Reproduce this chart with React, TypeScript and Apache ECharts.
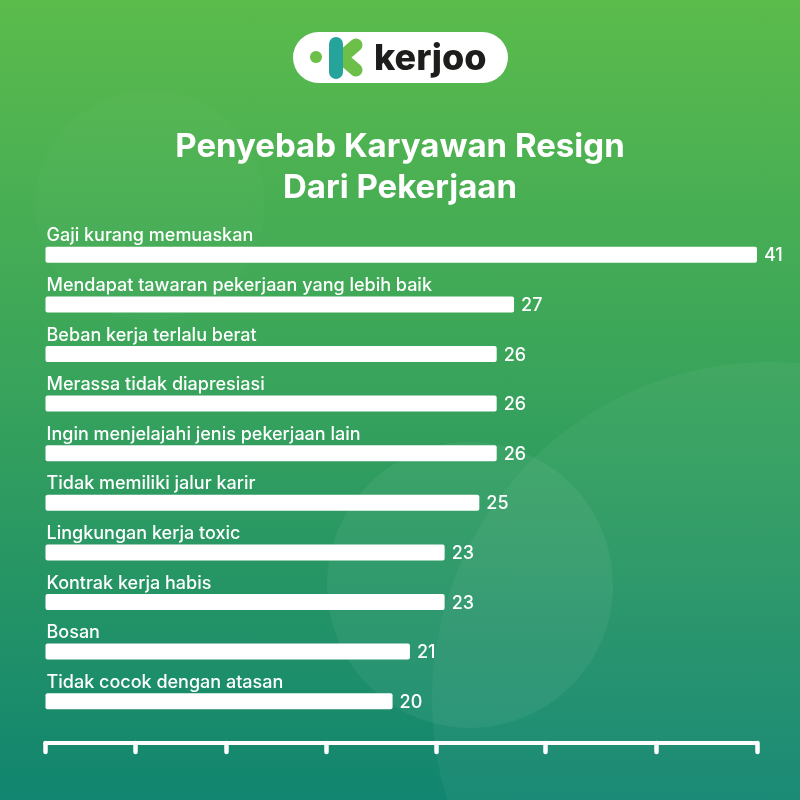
import React, { useEffect, useRef } from "react";
import * as echarts from "echarts";

const categories = [
  "Gaji kurang memuaskan",
  "Mendapat tawaran pekerjaan yang lebih baik",
  "Beban kerja terlalu berat",
  "Merassa tidak diapresiasi",
  "Ingin menjelajahi jenis pekerjaan lain",
  "Tidak memiliki jalur karir",
  "Lingkungan kerja toxic",
  "Kontrak kerja habis",
  "Bosan",
  "Tidak cocok dengan atasan",
];
const values = [41, 27, 26, 26, 26, 25, 23, 23, 21, 20];
const axisTickValues = [0, 5.2, 10.4, 16.2, 22.5, 28.8, 35.2, 41];
const titleLines = ["Penyebab Karyawan Resign", "Dari Pekerjaan"];
const brandText = "kerjoo";

const FONT = "Inter, 'Noto Sans', sans-serif";

export default function App() {
  const ref = useRef<HTMLDivElement>(null);
  useEffect(() => {
    if (!ref.current) return;
    const chart = echarts.init(ref.current, null, { renderer: "svg" });
    const bg = new echarts.graphic.LinearGradient(0, 0, 0, 1, [
      { offset: 0, color: "#5bbb4b" },
      { offset: 0.45, color: "#3aa55a" },
      { offset: 1, color: "#118570" },
    ]);
    chart.setOption({
      animation: false,
      graphic: [
        { type: "rect", z: -10, shape: { x: 0, y: 0, width: 800, height: 800 }, style: { fill: bg }, silent: true },
        { type: "circle", z: -9, shape: { cx: 150, cy: 205, r: 115 }, style: { fill: "rgba(255,255,255,0.02)" }, silent: true },
        { type: "circle", z: -9, shape: { cx: 770, cy: 700, r: 338 }, style: { fill: "rgba(255,255,255,0.045)" }, silent: true },
        { type: "circle", z: -9, shape: { cx: 470, cy: 585, r: 143 }, style: { fill: "rgba(255,255,255,0.055)" }, silent: true },
        {
          type: "text",
          z: 10,
          x: 400,
          y: 145,
          style: {
            text: titleLines[0],
            fill: "#ffffff",
            font: `700 33px ${FONT}`,
            align: "center",
            verticalAlign: "middle",
          },
        },
        {
          type: "text",
          z: 10,
          x: 400,
          y: 186,
          style: {
            text: titleLines[1],
            fill: "#ffffff",
            font: `700 33px ${FONT}`,
            align: "center",
            verticalAlign: "middle",
          },
        },
        {
          type: "group",
          z: 10,
          children: [
            { type: "rect", shape: { x: 293, y: 32, width: 215, height: 51, r: 25.5 }, style: { fill: "#ffffff" } },
            { type: "circle", shape: { cx: 316, cy: 57, r: 6 }, style: { fill: "#6cc04a" } },
            { type: "line", shape: { x1: 342, y1: 57, x2: 356, y2: 45 }, style: { stroke: "#6cc04a", lineWidth: 13, lineCap: "round" } },
            { type: "line", shape: { x1: 342, y1: 58, x2: 356, y2: 70 }, style: { stroke: "#6cc04a", lineWidth: 13, lineCap: "round" } },
            { type: "rect", shape: { x: 329, y: 37, width: 14, height: 42, r: 7 }, style: { fill: "#26a39a" } },
            {
              type: "text",
              x: 374,
              y: 57,
              style: {
                text: brandText,
                fill: "#1d1d1b",
                font: `800 36px ${FONT}`,
                verticalAlign: "middle",
                align: "left",
              },
            },
          ],
        },
      ],
      grid: { left: 45.5, right: 43, top: 230, bottom: 74, containLabel: false },
      xAxis: {
        type: "value",
        min: 0,
        max: 41,
        offset: 17,
        splitLine: { show: false },
        axisLabel: { show: false },
        axisLine: { show: true, lineStyle: { color: "#ffffff", width: 4, cap: "round" } },
        axisTick: {
          show: true,
          length: 9,
          customValues: axisTickValues,
          lineStyle: { color: "#ffffff", width: 4.5, cap: "round" },
        },
      },
      yAxis: {
        type: "category",
        inverse: true,
        data: categories,
        axisLine: { show: false },
        axisTick: { show: false },
        axisLabel: {
          inside: true,
          margin: 1,
          align: "left",
          verticalAlign: "bottom",
          padding: [0, 0, 11, 0],
          color: "#ffffff",
          fontFamily: FONT,
          fontSize: 18,
          fontWeight: 500,
        },
      },
      series: [
        {
          type: "bar",
          data: values,
          barWidth: 16,
          itemStyle: { color: "#ffffff", borderRadius: 2 },
          label: {
            show: true,
            position: "right",
            distance: 7,
            color: "#ffffff",
            fontFamily: FONT,
            fontSize: 18,
            fontWeight: 500,
          },
        },
      ],
    });
    return () => chart.dispose();
  }, []);
  return (
    <div
      ref={ref}
      style={{ position: "fixed", left: 0, top: 0, width: 800, height: 800 }}
    />
  );
}
